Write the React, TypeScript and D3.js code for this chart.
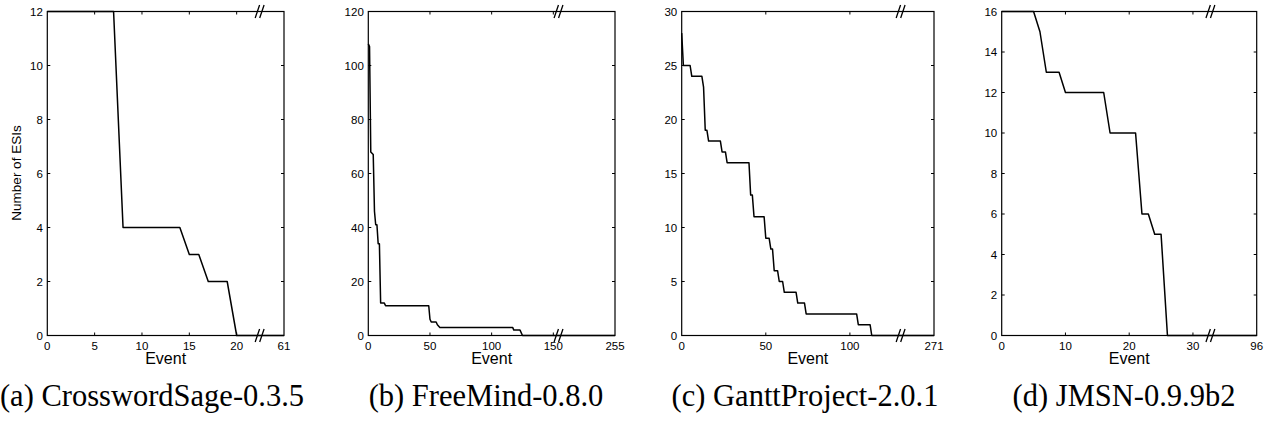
import React from 'react';
import * as d3 from 'd3';

// ---- Data (event index, number of ESIs) ----
const crosswordEvents = [0, 7, 8, 14, 15, 16, 17, 19, 20, 25];
const crosswordValues = [12, 12, 4, 4, 3, 3, 2, 2, 0, 0];

const freemindEvents = [0, 1, 2, 4, 5, 6, 7, 8, 9, 10, 13, 14, 49, 50, 51, 55, 56, 58, 117, 118, 123, 125, 200];
const freemindValues = [108, 107, 68, 67, 46, 41, 41, 34, 34, 12, 12, 11, 11, 6, 5, 5, 4, 3, 3, 2, 2, 0, 0];

const ganttEvents = [0, 1, 5, 6, 12, 13, 14, 15, 16, 23, 24, 26, 27, 40, 41, 42, 43, 49, 50, 52, 53, 54, 55, 57, 58, 60, 61, 68, 69, 73, 74, 104, 105, 112, 113, 150];
const ganttValues = [28, 25, 25, 24, 24, 23, 19, 19, 18, 18, 17, 17, 16, 16, 13, 13, 11, 11, 9, 9, 8, 8, 6, 6, 5, 5, 4, 4, 3, 3, 2, 2, 1, 1, 0, 0];

const jmsnEvents = [0, 5, 6, 7, 9, 10, 16, 17, 21, 22, 23, 24, 25, 26, 40];
const jmsnValues = [16, 16, 15, 13, 13, 12, 12, 10, 10, 6, 6, 5, 5, 0, 0];

// ---- Axis ticks and labels ----
const crosswordXTicks = [0, 5, 10, 15, 20];
const freemindXTicks = [0, 50, 100, 150];
const ganttXTicks = [0, 50, 100];
const jmsnXTicks = [0, 10, 20, 30];

const crosswordYTicks = [0, 2, 4, 6, 8, 10, 12];
const freemindYTicks = [0, 20, 40, 60, 80, 100, 120];
const ganttYTicks = [0, 5, 10, 15, 20, 25, 30];
const jmsnYTicks = [0, 2, 4, 6, 8, 10, 12, 14, 16];

const endLabels = ['61', '255', '271', '96'];
const captions = ['(a) CrosswordSage-0.3.5', '(b) FreeMind-0.8.0', '(c) GanttProject-2.0.1', '(d) JMSN-0.9.9b2'];
const xLabel = 'Event';
const yLabel = 'Number of ESIs';

// ---- Layout ----
const W = 1274;
const H = 425;
const TOP = 11.5;
const BOTTOM = 335.5;

const panels = [
  { left: 47.3, right: 284, xMax: 25, yMax: 12, events: crosswordEvents, values: crosswordValues, xTicks: crosswordXTicks, yTicks: crosswordYTicks, brk: 22.4, capX: 152 },
  { left: 368.3, right: 615, xMax: 200, yMax: 120, events: freemindEvents, values: freemindValues, xTicks: freemindXTicks, yTicks: freemindYTicks, brk: 154, capX: 486 },
  { left: 681.7, right: 934, xMax: 150, yMax: 30, events: ganttEvents, values: ganttValues, xTicks: ganttXTicks, yTicks: ganttYTicks, brk: 130, capX: 805 },
  { left: 1001.7, right: 1256.7, xMax: 40, yMax: 16, events: jmsnEvents, values: jmsnValues, xTicks: jmsnXTicks, yTicks: jmsnYTicks, brk: 32.7, capX: 1124 },
];

const SANS = "'Liberation Sans', Arial, Helvetica, sans-serif";
const SERIF = "'Liberation Serif', 'Times New Roman', serif";
const TICK_LEN = 3;

function Panel({ p, i }: { p: typeof panels[number]; i: number }) {
  const x = d3.scaleLinear().domain([0, p.xMax]).range([p.left, p.right]);
  const y = d3.scaleLinear().domain([0, p.yMax]).range([BOTTOM, TOP]);
  const pts: [number, number][] = p.events.map((e, k) => [e, p.values[k]]);
  const line = d3.line<[number, number]>().x(d => x(d[0])).y(d => y(d[1]));
  const bx = x(p.brk);
  const slash = (cx: number, cy: number) => `M${cx - 2.2},${cy + 6.5} L${cx + 2.2},${cy - 6.5}`;
  return (
    <g>
      <path d={line(pts) || ''} fill="none" stroke="#000" strokeWidth={1.5} strokeLinejoin="round" />
      <rect x={p.left} y={TOP} width={p.right - p.left} height={BOTTOM - TOP} fill="none" stroke="#000" strokeWidth={1.2} />
      {p.xTicks.filter(t => t > 0).map(t => (
        <g key={'xt' + t}>
          <line x1={x(t)} x2={x(t)} y1={BOTTOM} y2={BOTTOM - TICK_LEN} stroke="#000" strokeWidth={1} />
          <line x1={x(t)} x2={x(t)} y1={TOP} y2={TOP + TICK_LEN} stroke="#000" strokeWidth={1} />
        </g>
      ))}
      {p.yTicks.filter(t => t > 0 && t < p.yMax).map(t => (
        <g key={'yt' + t}>
          <line x1={p.left} x2={p.left + TICK_LEN} y1={y(t)} y2={y(t)} stroke="#000" strokeWidth={1} />
          <line x1={p.right} x2={p.right - TICK_LEN} y1={y(t)} y2={y(t)} stroke="#000" strokeWidth={1} />
        </g>
      ))}
      {p.xTicks.map(t => (
        <text key={'xl' + t} x={x(t)} y={350} textAnchor="middle" fontFamily={SANS} fontSize={11.5}>{t}</text>
      ))}
      <text x={p.right} y={350} textAnchor="middle" fontFamily={SANS} fontSize={11.5}>{endLabels[i]}</text>
      {p.yTicks.map(t => (
        <text key={'yl' + t} x={p.left - 4.5} y={y(t)} dy="0.35em" textAnchor="end" fontFamily={SANS} fontSize={11.5}>{t}</text>
      ))}
      <text x={(p.left + p.right) / 2} y={363.5} textAnchor="middle" fontFamily={SANS} fontSize={16}>{xLabel}</text>
      <path d={slash(bx - 2, TOP) + slash(bx + 2.5, TOP) + slash(bx - 2, BOTTOM) + slash(bx + 2.5, BOTTOM)} stroke="#000" strokeWidth={1.3} fill="none" />
      <text x={p.capX} y={406} textAnchor="middle" fontFamily={SERIF} fontSize={30.5}>{captions[i]}</text>
    </g>
  );
}

export default function App() {
  return (
    <svg width={W} height={H} style={{ position: 'absolute', left: 0, top: 0, background: '#fff' }}>
      <rect x={0} y={0} width={W} height={H} fill="#fff" />
      {panels.map((p, i) => <Panel key={i} p={p} i={i} />)}
      <text transform={`translate(16,173) rotate(-90)`} textAnchor="middle" dy="0.35em" fontFamily={SANS} fontSize={13.5}>{yLabel}</text>
    </svg>
  );
}
